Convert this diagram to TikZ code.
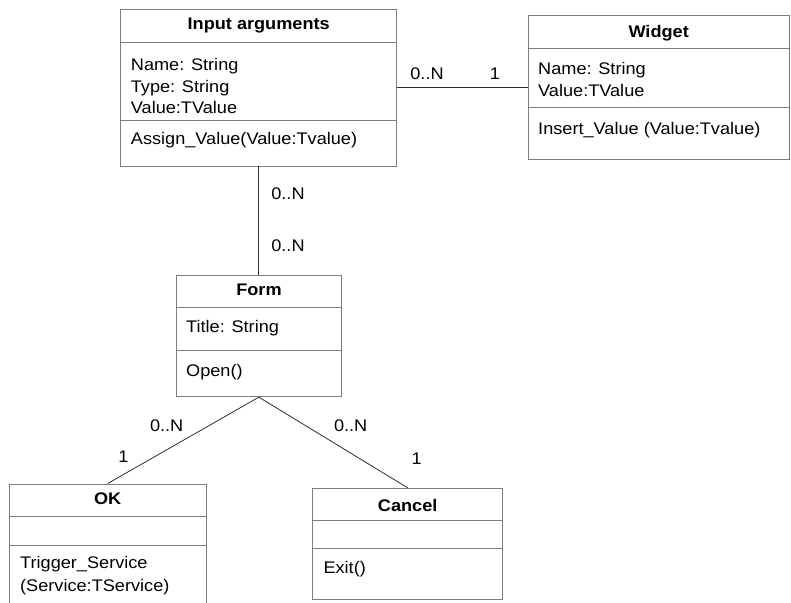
\documentclass[tikz,border=0pt]{standalone}
\usepackage{fontspec}
\setmainfont{Liberation Sans}[FakeStretch=1.08]
\definecolor{boxgray}{RGB}{125,125,125}
\definecolor{linegray}{RGB}{45,45,45}
\tikzset{
	classbox/.style={draw=boxgray, line width=0.9pt, inner sep=0pt},
	sepline/.style={draw=boxgray, line width=0.9pt},
	assoc/.style={draw=linegray, line width=0.8pt},
	head/.style={font=\fontsize{16.8}{20}\selectfont\bfseries, inner sep=0pt},
	members/.style={anchor=north west, align=left, inner sep=0pt},
	mult/.style={inner sep=0pt}
}

\begin{document}
\begin{tikzpicture}[x=1pt, y=-1pt, font=\fontsize{16.8}{21.5}\selectfont]

	\clip (0,0) rectangle (791,602);

	% class boxes
	\node[classbox, minimum width=276pt, minimum height=156.7pt] (input) at (258.7,87.65) {};
	\node[classbox, minimum width=260.7pt, minimum height=143.3pt] (widget) at (658.65,87.35) {};
	\node[classbox, minimum width=164.3pt, minimum height=121pt] (form) at (258.85,336.2) {};
	\node[classbox, minimum width=196.7pt, minimum height=128pt] (ok) at (107.65,548) {};
	\node[classbox, minimum width=190pt, minimum height=110.7pt] (cancel) at (407.7,543.65) {};

	% compartments
	\draw[sepline] (120.7,42.7) -- (396.7,42.7);
	\draw[sepline] (120.7,120) -- (396.7,120);
	\draw[sepline] (528.3,48.3) -- (789,48.3);
	\draw[sepline] (528.3,107.3) -- (789,107.3);
	\draw[sepline] (176.7,307.3) -- (341,307.3);
	\draw[sepline] (176.7,350.7) -- (341,350.7);
	\draw[sepline] (9.3,516.7) -- (206,516.7);
	\draw[sepline] (9.3,545) -- (206,545);
	\draw[sepline] (312.7,520.7) -- (502.7,520.7);
	\draw[sepline] (312.7,548.3) -- (502.7,548.3);

	% texts
	\node[head] (inputname) at (258.7,26) {Input arguments};
	\node[members] (inputattr) at (130.7,58.5) {Name: String\\Type: String\\Value:TValue};
	\node[members] (inputop) at (130.7,132) {Assign\_Value(Value:Tvalue)};

	\node[head] (widgetname) at (658.65,33) {Widget};
	\node[members] (widgetattr) at (538,62.5) {Name: String\\Value:TValue};
	\node[members] (widgetop) at (538,122.5) {Insert\_Value (Value:Tvalue)};

	\node[head] (formname) at (259,290) {Form};
	\node[members] (formattr) at (186,320) {Title: String};
	\node[members] (formop) at (186,364.5) {Open()};

	\node[head] (okname) at (107.65,499) {OK};
	\node[members, font=\fontsize{16.8}{22.7}\selectfont] (okop) at (20,556.5) {Trigger\_Service\\(Service:TService)};

	\node[head] (cancelname) at (407.7,505) {Cancel};
	\node[members] (cancelop) at (323.3,561) {Exit()};

	% associations
	\draw[assoc] (input.east) -- (input.east -| widget.west);
	\draw[assoc] (input.south) -- (input.south |- form.north);
	\draw[assoc] (form.south) -- (ok.north);
	\draw[assoc] (form.south) -- (cancel.north);

	\node[mult] (m1) at (427,74) {0..N};
	\node[mult] (m2) at (495,74) {1};
	\node[mult] (m3) at (288,194) {0..N};
	\node[mult] (m4) at (288,246) {0..N};
	\node[mult] (m5) at (166.7,426) {0..N};
	\node[mult] (m6) at (123.3,457) {1};
	\node[mult] (m7) at (350.7,426) {0..N};
	\node[mult] (m8) at (416.7,459) {1};

\end{tikzpicture}
\end{document}
